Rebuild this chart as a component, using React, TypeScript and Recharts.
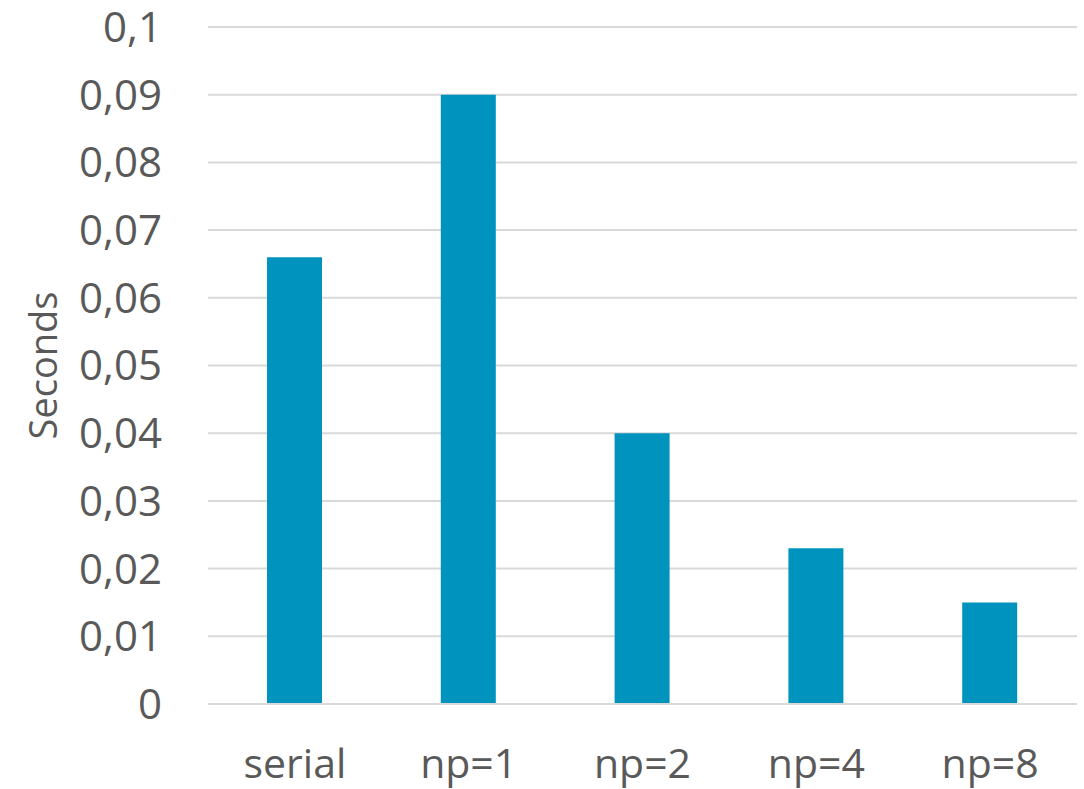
import { BarChart, Bar, XAxis, YAxis, CartesianGrid } from 'recharts'

const categories = ['serial', 'np=1', 'np=2', 'np=4', 'np=8']
const seconds = [0.066, 0.09, 0.04, 0.023, 0.015]
const yTicks = [0, 0.01, 0.02, 0.03, 0.04, 0.05, 0.06, 0.07, 0.08, 0.09, 0.1]

const chartData = categories.map((name, i) => ({ name, seconds: seconds[i] }))

const textColor = '#595959'
const fontFamily = '"Open Sans", sans-serif'

export default function App() {
  return (
    <div style={{ position: 'absolute', left: 0, top: 0, background: '#fff' }}>
      <BarChart
        width={1084}
        height={789}
        data={chartData}
        margin={{ top: 27, right: 7, left: 0, bottom: 0 }}
      >
        <CartesianGrid vertical={false} stroke="#D9D9D9" strokeWidth={2} />
        <XAxis
          dataKey="name"
          height={85}
          axisLine={{ stroke: '#D9D9D9', strokeWidth: 2 }}
          tickLine={false}
          tickSize={0}
          tickMargin={45}
          tick={{ fill: textColor, fontSize: 41, fontFamily }}
        />
        <YAxis
          width={208}
          domain={[0, 0.1]}
          ticks={yTicks}
          interval={0}
          axisLine={false}
          tickLine={false}
          tickSize={0}
          tickMargin={46}
          tickFormatter={(v) => String(v).replace('.', ',')}
          tick={{ fill: textColor, fontSize: 42, fontFamily }}
          label={{
            content: (props: any) => {
              const vb = props.viewBox || { y: 27, height: 677 }
              const cx = 42
              const cy = vb.y + vb.height / 2
              return (
                <text
                  x={cx}
                  y={cy}
                  transform={`rotate(-90, ${cx}, ${cy})`}
                  textAnchor="middle"
                  dominantBaseline="central"
                  fill={textColor}
                  fontSize={38}
                  fontFamily={fontFamily}
                >
                  Seconds
                </text>
              )
            },
          }}
        />
        <Bar dataKey="seconds" fill="#0093BE" barSize={55} isAnimationActive={false} />
      </BarChart>
    </div>
  )
}
